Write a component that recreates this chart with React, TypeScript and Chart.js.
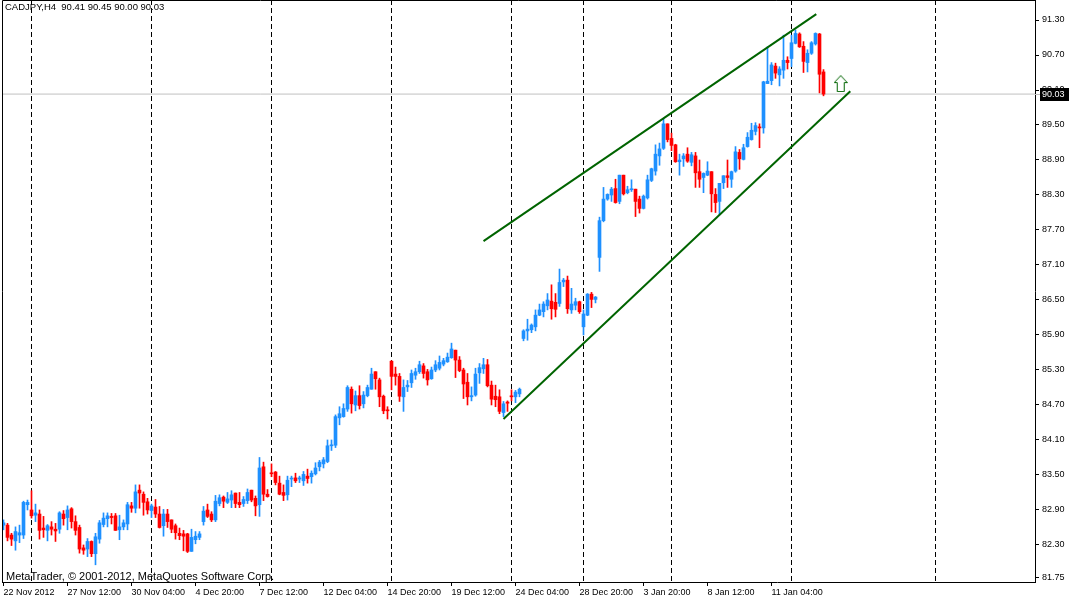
import { Chart, registerables } from "chart.js";
import { useEffect, useRef } from "react";

Chart.register(...registerables);

const symbol = "CADJPY";
const timeframe = "H4";

// H4 candles, oldest first
const opens = [
  82.64, 82.64, 82.47, 82.37, 82.47, 82.47, 82.99, 82.90, 82.81, 82.83,
  82.59, 82.55, 82.61, 82.57, 82.57, 82.83, 82.77, 82.92, 82.70, 82.60,
  82.25, 82.23, 82.36, 82.15, 82.40, 82.65, 82.75, 82.79, 82.80, 82.56,
  82.61, 82.66, 82.97, 82.93, 83.24, 83.17, 83.04, 82.89, 82.95, 82.83,
  82.63, 82.83, 82.73, 82.63, 82.50, 82.49, 82.49, 82.19, 82.39, 82.43,
  82.70, 82.90, 82.83, 82.73, 83.01, 83.12, 83.03, 83.07, 83.19, 83.03,
  83.01, 83.06, 83.24, 83.10, 82.99, 83.64, 83.17, 83.53, 83.55, 83.36,
  83.20, 83.16, 83.43, 83.45, 83.43, 83.40, 83.48, 83.47, 83.52, 83.64,
  83.69, 83.73, 84.00, 84.01, 84.48, 84.50, 84.63, 84.97, 84.70, 84.86,
  84.72, 84.86, 84.97, 85.27, 85.13, 84.85, 84.61, 85.45, 85.23, 85.19,
  84.84, 85.01, 85.08, 85.21, 85.27, 85.37, 85.27, 85.15, 85.30, 85.33,
  85.40, 85.44, 85.51, 85.64, 85.47, 85.30, 85.09, 84.84, 84.87, 85.25,
  85.32, 85.39, 85.04, 84.85, 84.84, 84.57, 84.75, 84.85, 84.84, 84.89,
  85.84, 85.97, 85.99, 86.04, 86.24, 86.30, 86.40, 86.48, 86.46, 86.44,
  86.81, 86.84, 86.33, 86.41, 86.47, 86.04, 86.24, 86.60, 86.51, 87.23,
  87.86, 88.23, 88.30, 88.41, 88.19, 88.64, 88.34, 88.39, 88.40, 88.23,
  88.07, 88.25, 88.55, 88.71, 88.97, 89.10, 89.52, 89.27, 89.16, 88.87,
  88.92, 89.00, 88.86, 88.97, 88.70, 88.60, 88.64, 88.70, 88.31, 88.19,
  88.51, 88.63, 88.57, 88.71, 89.03, 88.91, 89.13, 89.25, 89.39, 89.46,
  89.45, 90.21, 90.26, 90.51, 90.36, 90.44, 90.61, 90.64, 90.90, 91.06,
  90.85, 90.57, 90.73, 90.89, 91.06, 90.41,
];
const highs = [
  82.73, 82.67, 82.50, 82.61, 82.64, 83.05, 83.07, 83.23, 83.00, 82.90,
  82.79, 82.65, 82.70, 82.67, 82.87, 82.89, 82.97, 82.94, 82.80, 82.64,
  82.30, 82.41, 82.37, 82.50, 82.72, 82.85, 82.85, 82.84, 82.84, 82.81,
  82.73, 83.03, 83.03, 83.33, 83.33, 83.21, 83.10, 83.00, 83.08, 82.96,
  82.91, 82.91, 82.73, 82.66, 82.59, 82.55, 82.50, 82.57, 82.53, 82.53,
  82.96, 83.00, 82.87, 83.15, 83.16, 83.14, 83.20, 83.23, 83.19, 83.20,
  83.13, 83.26, 83.24, 83.14, 83.80, 83.72, 83.25, 83.69, 83.56, 83.48,
  83.33, 83.48, 83.48, 83.53, 83.48, 83.56, 83.60, 83.57, 83.71, 83.75,
  83.80, 84.10, 84.10, 84.53, 84.67, 84.72, 85.03, 85.01, 84.94, 85.03,
  84.93, 85.04, 85.33, 85.27, 85.16, 84.87, 84.67, 85.46, 85.35, 85.24,
  85.13, 85.12, 85.30, 85.33, 85.45, 85.41, 85.31, 85.35, 85.46, 85.54,
  85.50, 85.59, 85.76, 85.64, 85.53, 85.33, 85.24, 85.01, 85.33, 85.41,
  85.50, 85.48, 85.11, 85.04, 84.96, 84.76, 84.77, 84.96, 84.95, 84.99,
  85.99, 86.17, 86.09, 86.33, 86.43, 86.47, 86.61, 86.76, 86.61, 87.03,
  86.87, 86.91, 86.70, 86.53, 86.48, 86.33, 86.61, 86.63, 86.56, 87.92,
  88.43, 88.32, 88.43, 88.57, 88.64, 88.64, 88.45, 88.56, 88.40, 88.28,
  88.30, 88.64, 88.76, 89.16, 89.19, 89.61, 89.52, 89.36, 89.17, 89.00,
  89.01, 89.11, 89.03, 89.03, 88.90, 88.68, 88.87, 88.70, 88.41, 88.50,
  88.63, 88.90, 88.71, 89.13, 89.08, 89.17, 89.37, 89.53, 89.54, 89.52,
  90.25, 90.84, 90.57, 90.56, 90.50, 91.04, 90.67, 91.04, 91.13, 91.08,
  90.93, 90.79, 90.93, 91.08, 91.07, 90.45,
];
const lows = [
  82.56, 82.37, 82.29, 82.21, 82.34, 82.41, 82.90, 82.76, 82.70, 82.40,
  82.43, 82.37, 82.47, 82.36, 82.50, 82.64, 82.56, 82.59, 82.47, 82.16,
  82.14, 82.10, 82.10, 81.96, 82.33, 82.61, 82.61, 82.66, 82.55, 82.39,
  82.56, 82.56, 82.86, 82.85, 82.93, 82.81, 82.83, 82.77, 82.77, 82.59,
  82.45, 82.60, 82.51, 82.40, 82.39, 82.20, 82.17, 82.19, 82.32, 82.39,
  82.64, 82.77, 82.70, 82.70, 82.97, 82.94, 83.01, 82.94, 82.94, 82.94,
  82.96, 83.01, 83.04, 82.80, 82.79, 83.06, 83.12, 83.47, 83.33, 83.16,
  83.06, 83.07, 83.30, 83.37, 83.37, 83.32, 83.36, 83.36, 83.50, 83.57,
  83.62, 83.71, 83.92, 83.97, 84.36, 84.49, 84.59, 84.56, 84.60, 84.63,
  84.65, 84.84, 84.97, 84.97, 84.67, 84.55, 84.46, 84.96, 85.04, 84.76,
  84.59, 84.93, 85.00, 85.14, 85.24, 85.16, 85.04, 85.14, 85.27, 85.30,
  85.37, 85.43, 85.50, 85.17, 85.27, 84.81, 84.70, 84.77, 84.85, 85.07,
  85.24, 85.01, 84.70, 84.67, 84.55, 84.50, 84.59, 84.77, 84.74, 84.84,
  85.80, 85.81, 85.94, 85.97, 86.23, 86.21, 86.33, 86.17, 86.21, 86.39,
  86.73, 86.27, 86.27, 86.33, 86.27, 85.90, 86.23, 86.37, 86.45, 86.99,
  87.84, 88.21, 88.19, 88.16, 88.15, 88.30, 88.32, 88.36, 87.93, 87.99,
  88.06, 88.23, 88.53, 88.64, 88.81, 89.08, 89.21, 89.06, 88.86, 88.64,
  88.79, 88.86, 88.80, 88.43, 88.43, 88.34, 88.63, 88.01, 88.00, 87.96,
  88.41, 88.43, 88.43, 88.69, 88.74, 88.90, 89.12, 89.24, 89.33, 89.11,
  89.36, 90.21, 90.19, 90.30, 90.17, 90.30, 90.46, 90.50, 90.89, 90.83,
  90.40, 90.41, 90.71, 90.87, 90.05, 90.00,
];
const closes = [
  82.68, 82.43, 82.40, 82.53, 82.51, 83.03, 83.03, 82.80, 82.85, 82.55,
  82.56, 82.63, 82.57, 82.54, 82.85, 82.75, 82.90, 82.70, 82.55, 82.23,
  82.21, 82.36, 82.15, 82.44, 82.68, 82.76, 82.80, 82.77, 82.55, 82.61,
  82.68, 82.99, 82.93, 83.21, 83.19, 83.03, 82.90, 82.97, 82.83, 82.60,
  82.83, 82.70, 82.57, 82.51, 82.46, 82.45, 82.19, 82.43, 82.45, 82.49,
  82.88, 82.79, 82.73, 83.05, 83.11, 83.05, 83.09, 83.16, 83.01, 82.99,
  83.08, 83.20, 83.07, 82.97, 83.62, 83.17, 83.13, 83.52, 83.37, 83.17,
  83.15, 83.41, 83.44, 83.40, 83.45, 83.51, 83.44, 83.53, 83.62, 83.72,
  83.76, 84.00, 84.01, 84.50, 84.55, 84.64, 85.00, 84.72, 84.86, 84.69,
  84.87, 85.00, 85.23, 85.15, 84.84, 84.60, 84.60, 85.19, 85.19, 84.85,
  85.00, 85.04, 85.24, 85.27, 85.39, 85.24, 85.13, 85.30, 85.39, 85.43,
  85.46, 85.52, 85.66, 85.47, 85.29, 85.06, 84.84, 84.86, 85.23, 85.34,
  85.39, 85.03, 84.80, 84.79, 84.59, 84.72, 84.73, 84.84, 84.92, 84.97,
  85.97, 86.00, 86.07, 86.24, 86.33, 86.43, 86.50, 86.35, 86.34, 86.80,
  86.84, 86.35, 86.43, 86.47, 86.30, 86.26, 86.60, 86.51, 86.55, 87.86,
  88.23, 88.31, 88.40, 88.17, 88.64, 88.32, 88.39, 88.40, 88.19, 88.07,
  88.28, 88.56, 88.75, 89.00, 89.09, 89.52, 89.25, 89.15, 88.87, 88.90,
  88.97, 88.88, 88.99, 88.68, 88.57, 88.67, 88.71, 88.32, 88.17, 88.50,
  88.63, 88.60, 88.70, 89.04, 88.92, 89.11, 89.29, 89.41, 89.49, 89.45,
  90.24, 90.25, 90.53, 90.39, 90.46, 90.61, 90.57, 90.91, 91.07, 90.84,
  90.59, 90.73, 90.91, 91.07, 90.37, 90.03,
];

// time axis (bar index -> label) and price axis
const xTickIdx = [0, 16, 32, 48, 64, 80, 96, 112, 128, 144, 160, 176, 192];
const xTickLabels = [
  "22 Nov 2012", "27 Nov 12:00", "30 Nov 04:00", "4 Dec 20:00", "7 Dec 12:00",
  "12 Dec 04:00", "14 Dec 20:00", "19 Dec 12:00", "24 Dec 04:00", "28 Dec 20:00",
  "3 Jan 20:00", "8 Jan 12:00", "11 Jan 04:00",
];
const yTicks = [
  81.75, 82.3, 82.9, 83.5, 84.1, 84.7, 85.3, 85.9, 86.5, 87.1,
  87.7, 88.3, 88.9, 89.5, 90.1, 90.7, 91.3,
];

// weekly period separators (bar index)
const separatorIdx = [7, 37, 67, 97, 127, 145, 167, 197, 233];

// channel trend lines and the arrow object
const upperLineIdx = [120, 203.2];
const upperLinePrice = [87.51, 91.4];
const lowerLineIdx = [125, 211.7];
const lowerLinePrice = [84.46, 90.08];
const arrowIdx = [209.3];
const arrowPrice = [90.21];

const UP = "#1e90ff";
const DOWN = "#ff0000";
const CHANNEL = "#006400";
const BID_LINE = "#c0c0c0";
const FONT = '"Liberation Sans", Arial, sans-serif';

const X_MIN = -0.375;
const X_MAX = 257.875;
const Y_MIN = 81.665;
const Y_MAX = 91.643;

function makeArrow() {
  const c = document.createElement("canvas");
  c.width = 14;
  c.height = 17;
  const g = c.getContext("2d") as CanvasRenderingContext2D;
  g.beginPath();
  g.moveTo(7, 0.5);
  g.lineTo(13.5, 7.5);
  g.lineTo(10.5, 7.5);
  g.lineTo(10.5, 16.5);
  g.lineTo(3.5, 16.5);
  g.lineTo(3.5, 7.5);
  g.lineTo(0.5, 7.5);
  g.closePath();
  g.fillStyle = "#fff";
  g.fill();
  g.strokeStyle = CHANNEL;
  g.lineWidth = 1;
  g.stroke();
  return c;
}

const mtExtras = {
  id: "mtExtras",
  beforeDatasetsDraw(chart: any) {
    const { ctx, chartArea: a, scales } = chart;
    ctx.save();
    ctx.strokeStyle = "#000";
    ctx.lineWidth = 1;
    ctx.setLineDash([5, 3]);
    separatorIdx.forEach((i) => {
      const px = Math.floor(scales.x.getPixelForValue(i)) + 0.5;
      ctx.beginPath();
      ctx.moveTo(px, a.top);
      ctx.lineTo(px, a.bottom);
      ctx.stroke();
    });
    ctx.restore();
  },
  afterDraw(chart: any) {
    const { ctx, chartArea: a, scales } = chart;
    const n = closes.length - 1;
    ctx.save();
    ctx.strokeStyle = "#000";
    ctx.lineWidth = 1;
    ctx.beginPath();
    ctx.moveTo(a.left + 0.5, a.bottom);
    ctx.lineTo(a.left + 0.5, a.top + 0.5);
    ctx.lineTo(a.right, a.top + 0.5);
    ctx.stroke();

    ctx.fillStyle = "#000";
    ctx.textBaseline = "alphabetic";
    ctx.textAlign = "left";
    ctx.font = `9.5px ${FONT}`;
    const ohlc = [opens[n], highs[n], lows[n], closes[n]].map((v) => v.toFixed(2)).join(" ");
    ctx.fillText(`${symbol},${timeframe}  ${ohlc}`, a.left + 3, a.top + 10);
    ctx.font = `11px ${FONT}`;
    ctx.fillText("MetaTrader, © 2001-2012, MetaQuotes Software Corp.", a.left + 4, a.bottom - 2);

    // bid price label on the axis
    const by = Math.round(scales.y.getPixelForValue(closes[n]));
    ctx.strokeStyle = BID_LINE;
    ctx.beginPath();
    ctx.moveTo(a.right, by + 0.5);
    ctx.lineTo(a.right + 6, by + 0.5);
    ctx.stroke();
    ctx.fillStyle = "#000";
    ctx.fillRect(a.right + 5, by - 6, 29, 13);
    ctx.fillStyle = "#fff";
    ctx.font = `9px ${FONT}`;
    ctx.textBaseline = "middle";
    ctx.fillText(closes[n].toFixed(2), a.right + 7, by + 1);
    ctx.restore();
  },
};

const App = () => {
  const chartRef = useRef<HTMLCanvasElement>(null);

  useEffect(() => {
    let chart: Chart | null = null;
    if (chartRef.current) {
      const ctx = chartRef.current.getContext("2d") as CanvasRenderingContext2D;
      const colors = closes.map((c, i) => (c >= opens[i] ? UP : DOWN));
      const n = closes.length - 1;
      chart = new Chart(ctx, {
        type: "bar",
        data: {
          datasets: [
            {
              type: "line",
              label: "upper channel",
              data: upperLineIdx.map((x, i) => ({ x, y: upperLinePrice[i] })),
              borderColor: CHANNEL,
              borderWidth: 2,
              pointRadius: 0,
              order: 0,
            },
            {
              type: "line",
              label: "lower channel",
              data: lowerLineIdx.map((x, i) => ({ x, y: lowerLinePrice[i] })),
              borderColor: CHANNEL,
              borderWidth: 2,
              pointRadius: 0,
              order: 0,
            },
            {
              type: "line",
              label: "arrow",
              data: arrowIdx.map((x, i) => ({ x, y: arrowPrice[i] })),
              showLine: false,
              pointStyle: makeArrow(),
              pointRadius: 8,
              order: 0,
            },
            {
              type: "bar",
              label: "body",
              data: opens.map((o, i) => ({ x: i, y: [o, closes[i]] })),
              backgroundColor: colors,
              borderWidth: 0,
              barThickness: 3,
              minBarLength: 1,
              grouped: false,
              order: 1,
            },
            {
              type: "bar",
              label: "wick",
              data: lows.map((l, i) => ({ x: i, y: [l, highs[i]] })),
              backgroundColor: colors,
              borderWidth: 0,
              barThickness: 1,
              grouped: false,
              order: 2,
            },
            {
              type: "line",
              label: "bid",
              data: [
                { x: X_MIN, y: closes[n] },
                { x: X_MAX, y: closes[n] },
              ],
              borderColor: BID_LINE,
              borderWidth: 1,
              pointRadius: 0,
              order: 3,
            },
          ],
        } as any,
        options: {
          animation: false,
          responsive: false,
          events: [],
          layout: { autoPadding: false, padding: { left: 2, top: 0, right: 0, bottom: 0 } },
          plugins: { legend: { display: false }, tooltip: { enabled: false } },
          scales: {
            x: {
              type: "linear",
              position: "bottom",
              min: X_MIN,
              max: X_MAX,
              offset: false,
              afterBuildTicks: (s: any) => {
                s.ticks = xTickIdx.map((v) => ({ value: v }));
              },
              afterFit: (s: any) => {
                s.height = 17;
                s.paddingLeft = 0;
                s.paddingRight = 0;
              },
              ticks: {
                autoSkip: false,
                maxRotation: 0,
                align: "start",
                padding: 1,
                color: "#000",
                font: { family: FONT, size: 9 },
                callback: (_v: any, i: number) => xTickLabels[i],
              },
              grid: { drawOnChartArea: false, tickLength: 4, color: "#000", offset: false },
              border: { display: true, color: "#000" },
            },
            y: {
              type: "linear",
              position: "right",
              min: Y_MIN,
              max: Y_MAX,
              beginAtZero: false,
              afterBuildTicks: (s: any) => {
                s.ticks = yTicks.map((v) => ({ value: v }));
              },
              afterFit: (s: any) => {
                s.width = 40;
                s.paddingTop = 0;
                s.paddingBottom = 0;
              },
              ticks: {
                padding: 3,
                color: "#000",
                font: { family: FONT, size: 9 },
                callback: (v: any) => Number(v).toFixed(2),
              },
              grid: { drawOnChartArea: false, tickLength: 4, color: "#000" },
              border: { display: true, color: "#000" },
            },
          },
        } as any,
        plugins: [mtExtras],
      });
    }
    return () => {
      if (chart) {
        chart.destroy();
      }
    };
  }, []);

  return (
    <div style={{ position: "fixed", left: 0, top: 0, width: 1075, height: 599, background: "#fff" }}>
      <canvas ref={chartRef} width={1075} height={599} style={{ display: "block" }} />
    </div>
  );
};

export default App;
